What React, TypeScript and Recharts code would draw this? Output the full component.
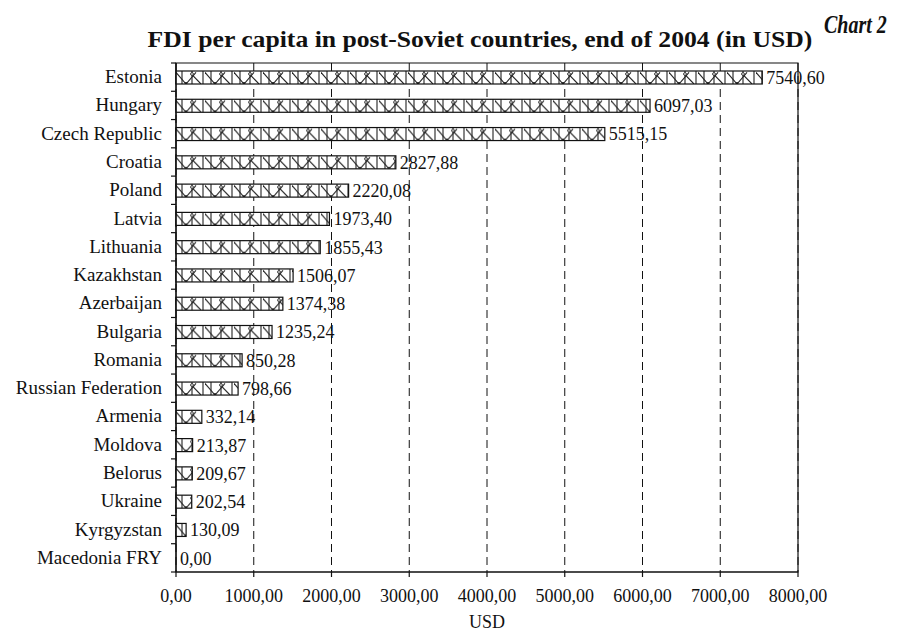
import { Bar, BarChart, CartesianGrid, LabelList, ReferenceArea, XAxis, YAxis } from "recharts"

const countries = [
  "Estonia",
  "Hungary",
  "Czech Republic",
  "Croatia",
  "Poland",
  "Latvia",
  "Lithuania",
  "Kazakhstan",
  "Azerbaijan",
  "Bulgaria",
  "Romania",
  "Russian Federation",
  "Armenia",
  "Moldova",
  "Belorus",
  "Ukraine",
  "Kyrgyzstan",
  "Macedonia FRY",
]

const fdiPerCapita = [
  7540.6, 6097.03, 5515.15, 2827.88, 2220.08, 1973.4, 1855.43, 1506.07, 1374.38, 1235.24, 850.28, 798.66, 332.14,
  213.87, 209.67, 202.54, 130.09, 0,
]

const xTicks = [0, 1000, 2000, 3000, 4000, 5000, 6000, 7000, 8000]

const data = countries.map((name, i) => ({ name, value: fdiPerCapita[i] }))

const fmt = (v: number) => v.toFixed(2).replace(".", ",")

const FONT = "'Liberation Serif', 'Times New Roman', serif"
const BAND = (572 - 63) / countries.length

function HatchBar(props: any) {
  const { x, y, width, height, index } = props
  if (!width || width <= 0) return null
  const id = `hatch-${index}`
  const h = height
  return (
    <g>
      <defs>
        <pattern id={id} x={x} y={y} width={29} height={h} patternUnits="userSpaceOnUse">
          <rect width={29} height={h} fill="#fff" />
          <g stroke="#222" strokeWidth={1.1} fill="none">
            <path d={`M0,${h * 0.1} L10,${h}`} />
            <path d={`M10,${h} L20,${h * 0.1}`} />
            <path d={`M15,${h * 0.2} L25,${h}`} />
            <path d={`M6,0 L6,${h} M16,0 L16,${h} M27,0 L27,${h}`} />
          </g>
          <circle cx={16} cy={3} r={1.4} fill="#fff" stroke="#222" strokeWidth={0.9} />
          <circle cx={10} cy={h - 0.8} r={1.3} fill="#222" />
        </pattern>
      </defs>
      <rect x={x} y={y} width={width} height={h} fill={`url(#${id})`} stroke="#111" strokeWidth={1.2} />
    </g>
  )
}

function CategoryTick(props: any) {
  const { x, y, payload, index } = props
  const axisX = x + 8
  return (
    <g>
      <text x={x - 6} y={y} dy={6} textAnchor="end" fontFamily={FONT} fontSize={19} fill="#111">
        {payload.value}
      </text>
      <line x1={axisX - 5} x2={axisX} y1={y - BAND / 2} y2={y - BAND / 2} stroke="#111" strokeWidth={1.2} />
      {index === countries.length - 1 && (
        <line x1={axisX - 5} x2={axisX} y1={y + BAND / 2} y2={y + BAND / 2} stroke="#111" strokeWidth={1.2} />
      )}
    </g>
  )
}

export default function App() {
  return (
    <div style={{ width: 902, height: 637, position: "relative", margin: -8, background: "#fff", overflow: "hidden" }}>
      <BarChart
        width={902}
        height={637}
        data={data}
        layout="vertical"
        margin={{ top: 63, right: 104, left: 0, bottom: 0 }}
        barCategoryGap={0}
      >
        <CartesianGrid horizontal={false} stroke="#111" strokeDasharray="8 5" strokeWidth={1} />
        <ReferenceArea x1={0} x2={8000} fill="none" stroke="#111" strokeWidth={1.2} ifOverflow="extendDomain" />
        <XAxis
          type="number"
          domain={[0, 8000]}
          ticks={xTicks}
          tickFormatter={fmt}
          height={65}
          tickMargin={12}
          tick={{ fill: "#111", fontFamily: FONT, fontSize: 18 }}
          stroke="#111"
          strokeWidth={1.2}
          tickSize={5}
          label={{ value: "USD", position: "insideBottom", offset: 9, fill: "#111", fontFamily: FONT, fontSize: 18 }}
        />
        <YAxis
          type="category"
          dataKey="name"
          width={176}
          tick={<CategoryTick />}
          tickLine={false}
          interval={0}
          stroke="#111"
          strokeWidth={1.2}
        />
        <Bar dataKey="value" barSize={13} shape={<HatchBar />} isAnimationActive={false}>
          <LabelList
            dataKey="value"
            position="right"
            offset={4}
            formatter={(v: any) => fmt(Number(v))}
            style={{ fill: "#111", fontFamily: FONT, fontSize: 18 }}
          />
        </Bar>
      </BarChart>
      <svg width={902} height={637} style={{ position: "absolute", left: 0, top: 0, pointerEvents: "none" }}>
        <text
          x={480}
          y={47}
          textAnchor="middle"
          fontFamily={FONT}
          fontWeight="bold"
          fontSize={24}
          fill="#111"
          transform="translate(480 0) scale(1.07 1) translate(-480 0)"
        >
          FDI per capita in post-Soviet countries, end of 2004 (in USD)
        </text>
        <text
          x={824}
          y={33}
          fontFamily={FONT}
          fontWeight="bold"
          fontStyle="italic"
          fontSize={25}
          fill="#111"
          transform="translate(824 0) scale(0.8 1) translate(-824 0)"
        >
          Chart 2
        </text>
      </svg>
    </div>
  )
}
